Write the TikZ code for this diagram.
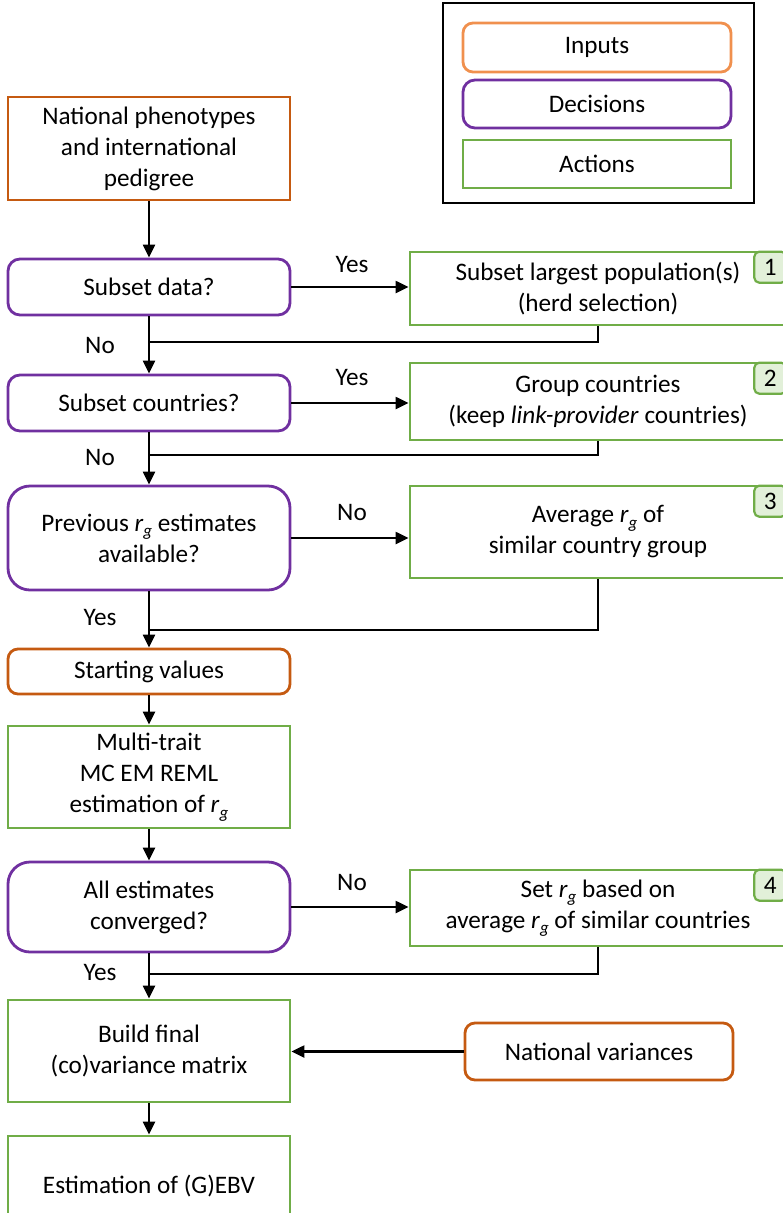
\documentclass[tikz,border=0pt]{standalone}
\usepackage{fontspec}
\setmainfont{Carlito}
\usepackage{xcolor}
\usepackage{tikz}
\usetikzlibrary{arrows.meta}
\definecolor{inpcol}{HTML}{C55A11}
\definecolor{leginp}{HTML}{F0904E}
\definecolor{deccol}{HTML}{7030A0}
\definecolor{actcol}{HTML}{70AD47}
\definecolor{badgefill}{HTML}{E2F0D9}
\newcommand{\rgsym}{\textit{r}\raisebox{-0.45ex}{\fontsize{17}{17}\selectfont\textit{g}}}

\begin{document}
\begin{tikzpicture}[x=1pt, y=-1pt, font=\fontsize{25.2}{31}\selectfont,
	base/.style={draw, line width=2.8pt, align=center, inner sep=0pt},
	input/.style={base, draw=inpcol, rounded corners=10pt},
	inputsq/.style={base, draw=inpcol},
	decision/.style={base, draw=deccol, rounded corners=12pt},
	action/.style={base, draw=actcol},
	leftbox/.style={minimum width=282pt},
	rightbox/.style={minimum width=376pt},
	badge/.style={draw=actcol, fill=badgefill, rounded corners=5pt, line width=2.2pt, minimum width=32pt, minimum height=31pt, inner sep=0pt, anchor=north east},
	arrow/.style={-{Triangle[length=13pt,width=12pt]}, line width=2.2pt},
	joinline/.style={line width=2.2pt},
	lbl/.style={inner sep=0pt}]
	\useasboundingbox (0,0) rectangle (782,1213);
	% legend
	\draw[line width=2.8pt] (443,3) rectangle (754,203);
	\node[base, draw=leginp, rounded corners=10pt, minimum width=268pt, minimum height=49pt] (legin) at (597,47.5) {Inputs};
	\node[decision, minimum width=268pt, minimum height=48pt] (legdec) at (597,104) {Decisions};
	\node[action, minimum width=268pt, minimum height=48pt] (legact) at (597,164) {Actions};
	% main column
	\node[inputsq, leftbox, minimum height=103pt] (pheno) at (149,148.5) {National phenotypes\\and international\\pedigree};
	\node[decision, leftbox, minimum height=56pt] (subdata) at (149,287) {Subset data?};
	\node[decision, leftbox, minimum height=56pt] (subctry) at (149,403) {Subset countries?};
	\node[decision, leftbox, rounded corners=22pt, minimum height=104pt] (prev) at (149,538) {Previous \rgsym{} estimates\\available?};
	\node[input, leftbox, minimum height=45pt] (start) at (149,671.5) {Starting values};
	\node[action, leftbox, minimum height=102pt] (mcem) at (149,777) {Multi-trait\\MC EM REML\\estimation of \rgsym};
	\node[decision, leftbox, rounded corners=22pt, minimum height=90pt] (conv) at (149,907) {All estimates\\converged?};
	\node[action, leftbox, minimum height=102pt] (final) at (149,1051) {Build final\\(co)variance matrix};
	\node[action, leftbox, minimum height=100pt] (gebv) at (149,1186) {Estimation of (G)EBV};
	% side boxes
	\node[action, rightbox, minimum height=73pt] (box1) at (598,288.5) {Subset largest population(s)\\(herd selection)};
	\node[action, rightbox, minimum height=77pt] (box2) at (598,401.5) {Group countries\\(keep \textit{link-provider} countries)};
	\node[action, rightbox, minimum height=92pt] (box3) at (598,532) {Average \rgsym{} of\\similar country group};
	\node[action, rightbox, minimum height=76pt] (box4) at (598,908) {Set \rgsym{} based on\\average \rgsym{} of similar countries};
	\node[input, minimum width=268pt, minimum height=57pt] (natvar) at (599,1051.5) {National variances};
	\node[badge] (b1) at (box1.north east) {1};
	\node[badge] (b2) at (box2.north east) {2};
	\node[badge] (b3) at (box3.north east) {3};
	\node[badge] (b4) at (box4.north east) {4};
	% labels
	\node[lbl] (yes1) at (352,265) {Yes};
	\node[lbl] (no1) at (100,345) {No};
	\node[lbl] (yes2) at (352,378) {Yes};
	\node[lbl] (no2) at (100,457) {No};
	\node[lbl] (no3) at (352,512) {No};
	\node[lbl] (yes3) at (100,617) {Yes};
	\node[lbl] (no4) at (352,882) {No};
	\node[lbl] (yes4) at (100,972) {Yes};
	% join points
	\coordinate (m1) at (149,342);
	\coordinate (m2) at (149,455);
	\coordinate (m3) at (149,630);
	\coordinate (m4) at (149,974);
	% connectors
	\draw[arrow] (pheno) -- (subdata);
	\draw[arrow] (subdata.east) -- (subdata.east -| box1.west);
	\draw[arrow] (subdata) -- (subctry);
	\draw[joinline] (box1.south) |- (m1);
	\draw[arrow] (subctry.east) -- (subctry.east -| box2.west);
	\draw[arrow] (subctry) -- (prev);
	\draw[joinline] (box2.south) |- (m2);
	\draw[arrow] (prev.east) -- (prev.east -| box3.west);
	\draw[arrow] (prev) -- (start);
	\draw[joinline] (box3.south) |- (m3);
	\draw[arrow] (start) -- (mcem);
	\draw[arrow] (mcem) -- (conv);
	\draw[arrow] (conv.east) -- (conv.east -| box4.west);
	\draw[arrow] (conv) -- (final);
	\draw[joinline] (box4.south) |- (m4);
	\draw[arrow] (natvar.west) -- (natvar.west -| final.east);
	\draw[arrow] (final) -- (gebv);
\end{tikzpicture}
\end{document}
